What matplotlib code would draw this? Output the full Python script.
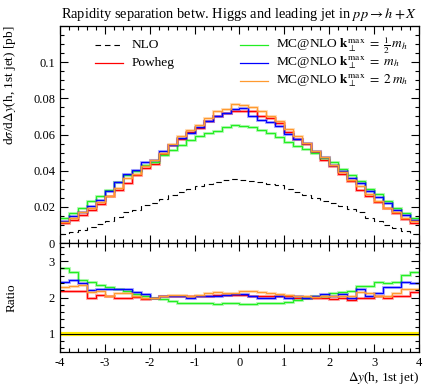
import matplotlib
matplotlib.use('Agg')
import matplotlib.pyplot as plt
import numpy as np
import matplotlib.ticker as ticker

plt.rcParams['font.family'] = ['Liberation Serif', 'DejaVu Serif']
plt.rcParams['mathtext.fontset'] = 'stix'
plt.rcParams['axes.unicode_minus'] = False

# 40 bins of width 0.2 between -4 and 4
bin_edges = np.linspace(-4, 4, 41)

nlo = [0.0048, 0.0063, 0.0072, 0.0091, 0.0104, 0.0122, 0.0143, 0.0170, 0.0185, 0.0211,
       0.0220, 0.0243, 0.0267, 0.0281, 0.0298, 0.0313, 0.0326, 0.0337, 0.0346, 0.0354,
       0.0350, 0.0344, 0.0337, 0.0328, 0.0319, 0.0298, 0.0281, 0.0267, 0.0248, 0.0230,
       0.0220, 0.0207, 0.0187, 0.0169, 0.0141, 0.0122, 0.0100, 0.0085, 0.0069, 0.0052]
powheg = [0.0109, 0.0128, 0.0156, 0.0184, 0.0218, 0.0258, 0.0295, 0.0333, 0.0375, 0.0415,
          0.0436, 0.0490, 0.0543, 0.0575, 0.0615, 0.0638, 0.0672, 0.0700, 0.0718, 0.0732,
          0.0732, 0.0728, 0.0705, 0.0692, 0.0662, 0.0612, 0.0575, 0.0546, 0.0505, 0.0460,
          0.0426, 0.0380, 0.0345, 0.0295, 0.0262, 0.0227, 0.0194, 0.0166, 0.0135, 0.0111]
mc_half = [0.0137, 0.0165, 0.0193, 0.0230, 0.0261, 0.0294, 0.0335, 0.0375, 0.0400, 0.0430,
           0.0446, 0.0485, 0.0512, 0.0540, 0.0570, 0.0590, 0.0610, 0.0620, 0.0640, 0.0650,
           0.0645, 0.0640, 0.0624, 0.0610, 0.0588, 0.0556, 0.0536, 0.0520, 0.0500, 0.0470,
           0.0446, 0.0411, 0.0374, 0.0344, 0.0298, 0.0270, 0.0230, 0.0193, 0.0165, 0.0137]
mc_one = [0.0120, 0.0148, 0.0174, 0.0205, 0.0240, 0.0290, 0.0338, 0.0380, 0.0405, 0.0446,
          0.0458, 0.0510, 0.0540, 0.0578, 0.0606, 0.0640, 0.0672, 0.0700, 0.0718, 0.0742,
          0.0745, 0.0705, 0.0680, 0.0670, 0.0646, 0.0605, 0.0576, 0.0555, 0.0508, 0.0478,
          0.0433, 0.0400, 0.0359, 0.0331, 0.0285, 0.0257, 0.0220, 0.0183, 0.0156, 0.0126]
mc_two = [0.0115, 0.0140, 0.0170, 0.0196, 0.0228, 0.0262, 0.0302, 0.0359, 0.0382, 0.0428,
          0.0460, 0.0500, 0.0550, 0.0590, 0.0625, 0.0650, 0.0694, 0.0732, 0.0740, 0.0768,
          0.0765, 0.0750, 0.0728, 0.0700, 0.0672, 0.0628, 0.0590, 0.0555, 0.0510, 0.0478,
          0.0433, 0.0393, 0.0348, 0.0313, 0.0272, 0.0233, 0.0196, 0.0174, 0.0141, 0.0119]

# ratio to NLO
ratio_powheg = [2.19, 2.19, 2.19, 2.00, 2.06, 2.03, 2.00, 1.98, 2.01, 1.96,
                1.98, 2.03, 2.05, 2.03, 2.05, 2.03, 2.05, 2.07, 2.06, 2.06,
                2.06, 2.05, 2.03, 2.03, 2.03, 2.03, 2.00, 2.00, 1.98, 1.98,
                1.96, 1.98, 1.94, 1.98, 1.98, 2.03, 1.98, 2.03, 2.05, 2.14]
ratio_half = [2.80, 2.71, 2.49, 2.42, 2.34, 2.30, 2.24, 2.18, 2.10, 2.03,
              1.99, 1.97, 1.90, 1.86, 1.85, 1.84, 1.84, 1.83, 1.84, 1.84,
              1.82, 1.82, 1.84, 1.84, 1.86, 1.89, 1.92, 1.98, 2.03, 2.05,
              2.12, 2.14, 2.17, 2.31, 2.31, 2.43, 2.40, 2.43, 2.63, 2.69]
ratio_one = [2.44, 2.47, 2.40, 2.21, 2.24, 2.24, 2.24, 2.23, 2.14, 2.09,
             2.00, 2.05, 2.05, 2.03, 2.00, 2.03, 2.05, 2.05, 2.07, 2.09,
             2.09, 2.03, 2.00, 2.00, 2.03, 1.98, 2.03, 2.00, 2.05, 2.09,
             2.03, 2.09, 2.00, 2.24, 2.03, 2.12, 2.28, 2.28, 2.44, 2.40]
ratio_two = [2.29, 2.32, 2.35, 2.14, 2.17, 2.05, 2.12, 2.12, 2.03, 1.98,
             2.00, 2.03, 2.07, 2.07, 2.05, 2.07, 2.12, 2.14, 2.12, 2.12,
             2.17, 2.17, 2.14, 2.12, 2.09, 2.07, 2.05, 2.03, 2.01, 2.03,
             2.03, 2.03, 2.03, 2.14, 2.12, 2.05, 2.05, 2.12, 2.23, 2.23]

labels = ['NLO', 'Powheg',
          r'MC@NLO $\mathbf{k}_\perp^{\mathrm{max}}\ =\ \frac{1}{2}\,m_h$',
          r'MC@NLO $\mathbf{k}_\perp^{\mathrm{max}}\ =\ m_h$',
          r'MC@NLO $\mathbf{k}_\perp^{\mathrm{max}}\ =\ 2\,m_h$']
colors = ['black', '#ff0000', '#22ee22', '#0000ff', '#ff9a30']

fig = plt.figure(figsize=(4.23, 3.85), dpi=100)
ax = fig.add_axes([0.1418, 0.3688, 0.8487, 0.5636])
ax2 = fig.add_axes([0.1418, 0.0857, 0.8487, 0.2831], sharex=ax)

# main panel
ax.stairs(nlo, bin_edges, baseline=None, color='black', lw=0.8, linestyle=(0, (5, 3.5)))
for vals, col in zip([powheg, mc_half, mc_one, mc_two], colors[1:]):
    ax.stairs(vals, bin_edges, baseline=None, color=col, lw=2.2, alpha=0.3)
    ax.stairs(vals, bin_edges, baseline=None, color=col, lw=0.9)

ax.set_xlim(-4, 4)
ax.set_ylim(0, 0.12)
ax.set_title(r'Rapidity separation betw. Higgs and leading jet in $pp \to h + X$',
             fontsize=10.4, pad=6)
ax.set_ylabel(r'd$\sigma$/d$\Delta y$(h, 1st jet) [pb]', fontsize=9.5, loc='top')
ax.yaxis.set_label_coords(-0.117, 1.0)
ax.yaxis.set_major_locator(ticker.MultipleLocator(0.02))
ax.yaxis.set_minor_locator(ticker.MultipleLocator(0.005))
ax.yaxis.set_major_formatter(ticker.FuncFormatter(lambda v, p: f'{v:g}' if v < 0.11 else ''))
plt.setp(ax.get_xticklabels(), visible=False)

# legend drawn by hand, two columns
rows = [0.912, 0.83, 0.748]
ax.plot([0.0975, 0.175], [rows[0]] * 2, transform=ax.transAxes, color='black', lw=0.8,
        linestyle=(0, (5, 3.5)))
ax.text(0.2, rows[0], labels[0], transform=ax.transAxes, va='center', fontsize=9.6)
ax.plot([0.0975, 0.175], [rows[1]] * 2, transform=ax.transAxes, color=colors[1], lw=0.9)
ax.text(0.2, rows[1], labels[1], transform=ax.transAxes, va='center', fontsize=9.6)
for r, lab, col in zip(rows, labels[2:], colors[2:]):
    ax.plot([0.5015, 0.579], [r, r], transform=ax.transAxes, color=col, lw=0.9)
    ax.text(0.602, r, lab, transform=ax.transAxes, va='center', fontsize=9.6)

# ratio panel
ax2.axhline(1, color='#ffee00', lw=3)
ax2.axhline(1, color='black', lw=0.8)
for vals, col in zip([ratio_powheg, ratio_half, ratio_one, ratio_two], colors[1:]):
    ax2.stairs(vals, bin_edges, baseline=None, color=col, lw=2.2, alpha=0.3)
    ax2.stairs(vals, bin_edges, baseline=None, color=col, lw=0.9)

ax2.set_ylim(0.5, 3.5)
ax2.set_ylabel('Ratio', fontsize=9.5)
ax2.yaxis.set_label_coords(-0.117, 0.5)
ax2.set_xlabel(r'$\Delta y$(h, 1st jet)', fontsize=9.5, loc='right')
ax2.xaxis.set_label_coords(1.0, -0.165)
ax2.yaxis.set_major_locator(ticker.MultipleLocator(1))
ax2.yaxis.set_minor_locator(ticker.MultipleLocator(0.2))
ax2.xaxis.set_major_locator(ticker.MultipleLocator(1))
ax2.xaxis.set_minor_locator(ticker.MultipleLocator(0.2))
ax2.xaxis.set_major_formatter(ticker.FuncFormatter(lambda v, p: f'{v:g}'))

for a in (ax, ax2):
    a.tick_params(which='both', direction='in', top=True, right=True, labelsize=9, width=0.8)
    a.tick_params(which='major', length=6)
    a.tick_params(which='minor', length=3)
    for s in a.spines.values():
        s.set_linewidth(0.9)

fig.savefig('out.png', dpi=100)
